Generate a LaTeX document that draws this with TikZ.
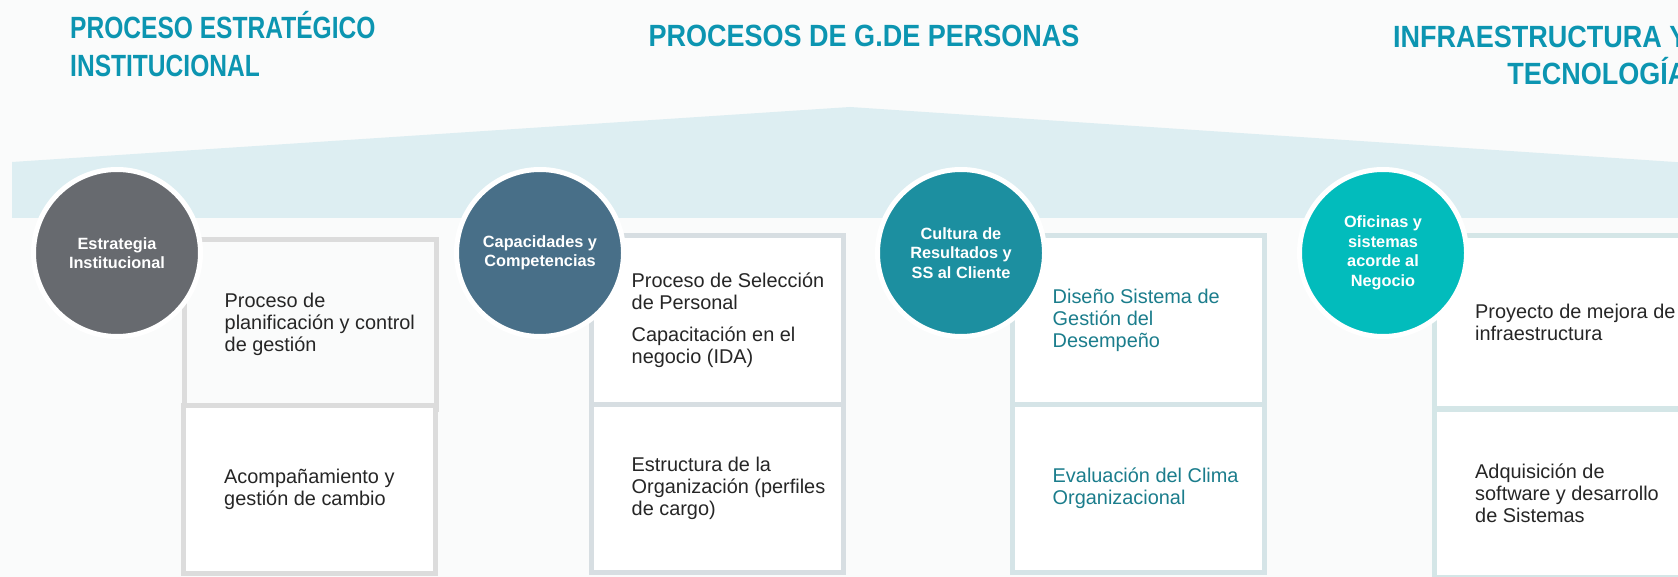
\documentclass[tikz,border=0pt]{standalone}
\usepackage{fontspec}
\setmainfont{Liberation Sans}
\newfontfamily\titlefont{Liberation Sans}[FakeStretch=0.8]
\newfontfamily\titlewide{Liberation Sans}[FakeStretch=0.88]
\usetikzlibrary{positioning}

\definecolor{pagebg}{HTML}{FAFBFB}
\definecolor{roofblue}{HTML}{DDEEF2}
\definecolor{titleteal}{HTML}{0C95B1}
\definecolor{inkdark}{HTML}{262626}
\definecolor{inkteal}{HTML}{1B7D8C}
\definecolor{stonegray}{HTML}{676A6F}
\definecolor{slateblue}{HTML}{486F88}
\definecolor{deepteal}{HTML}{1C8FA0}
\definecolor{brightteal}{HTML}{02BCBC}
\definecolor{edgegray}{HTML}{DCDCDC}
\definecolor{edgeslate}{HTML}{D7DEE2}
\definecolor{edgeteal}{HTML}{D5E4E7}
\definecolor{edgeaqua}{HTML}{D4E6E7}

\tikzset{
  sectitle/.style = {text=titleteal, inner sep=0pt, align=left,
    font=\titlefont\bfseries\fontsize{30.7}{38}\selectfont},
  pill/.style = {circle, draw=white, line width=5pt, minimum size=167pt,
    inner sep=0pt, text=white, align=center,
    font=\bfseries\fontsize{16.3}{19.5}\selectfont},
  cellbox/.style = {rectangle, line width=5pt, fill=white, inner sep=0pt,
    minimum width=252pt, minimum height=168pt},
  celltext/.style = {inner sep=0pt, align=left, text=inkdark,
    font=\fontsize{19.9}{22}\selectfont}
}

\begin{document}
\begin{tikzpicture}[x=1pt,y=-1pt]
  \useasboundingbox[fill=pagebg] (0,0) rectangle (1678,577);

  % roof
  \fill[roofblue] (12,218) -- (12,162) -- (850,107) -- (1690,163) -- (1690,218) -- cycle;

  % headings
  \node[sectitle, anchor=base west] (head1) at (70,77) {PROCESO ESTRATÉGICO\\INSTITUCIONAL};
  \node[sectitle, font=\titlewide\bfseries\fontsize{30.7}{38}\selectfont, anchor=base] (head2) at (864,47) {PROCESOS DE G.DE PERSONAS};
  \node[sectitle, font=\titlewide\bfseries\fontsize{30.7}{37}\selectfont, align=right, anchor=base west] (head3) at (1393,85) {INFRAESTRUCTURA Y\\TECNOLOGÍA};

  % boxes
  \node[cellbox, draw=edgegray, fill=pagebg, minimum height=170pt] (up1) at (310,324.5) {};
  \node[cellbox, draw=edgegray] (low1) at (309.5,489.5) {};
  \node[cellbox, draw=edgeslate, minimum height=170pt] (up2) at (717,320.5) {};
  \node[cellbox, draw=edgeslate] (low2) at (717,488.5) {};
  \node[cellbox, draw=edgeteal, minimum height=170pt] (up3) at (1138,320.5) {};
  \node[cellbox, draw=edgeteal] (low3) at (1138,488.5) {};
  \node[cellbox, draw=edgeaqua, minimum height=173pt] (up4) at (1560.5,322) {};
  \node[cellbox, draw=edgeaqua] (low4) at (1560.5,493.5) {};

  \node[celltext, right=43pt of up1.west] (txt1a) {Proceso de\\planificación y control\\de gestión};
  \node[celltext, right=43pt of low1.west] (txt1b) {Acompañamiento y\\gestión de cambio};
  \node[celltext, right=43pt of up2.west] (txt2a) {Proceso de Selección\\de Personal\\[10pt]Capacitación en el\\negocio (IDA)};
  \node[celltext, right=43pt of low2.west] (txt2b) {Estructura de la\\Organización (perfiles\\de cargo)};
  \node[celltext, text=inkteal, right=43pt of up3.west] (txt3a) {Diseño Sistema de\\Gestión del\\Desempeño};
  \node[celltext, text=inkteal, right=43pt of low3.west] (txt3b) {Evaluación del Clima\\Organizacional};
  \node[celltext, right=43pt of up4.west] (txt4a) {Proyecto de mejora de\\infraestructura};
  \node[celltext, right=43pt of low4.west] (txt4b) {Adquisición de\\software y desarrollo\\de Sistemas};

  % circles
  \node[pill, fill=stonegray] (core1) at (117,253) {Estrategia\\Institucional};
  \node[pill, fill=slateblue] (core2) at (540,253) {Capacidades y\\Competencias};
  \node[pill, fill=deepteal] (core3) at (961,253) {Cultura de\\Resultados y\\SS al Cliente};
  \node[pill, fill=brightteal] (core4) at (1383,253) {Oficinas y\\sistemas\\acorde al\\Negocio};
\end{tikzpicture}
\end{document}
